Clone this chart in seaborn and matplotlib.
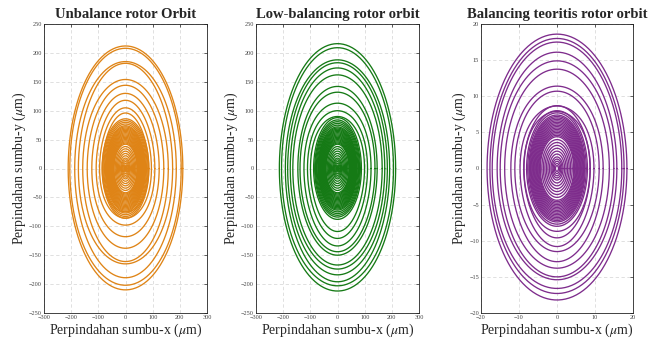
import numpy as np
import pandas as pd
import matplotlib
matplotlib.use("Agg")
import matplotlib.pyplot as plt
import seaborn as sns

# ---- orbit data (ring extents in micrometres) ----
# Unbalance rotor
unb_top = [212, 208, 185, 182, 154, 144, 130, 118, 105, 96]
unb_bot = [210, 202, 189, 165, 161, 138, 118, 98, 86, 75]
unb_core = [42, 44, 46, 48, 50, 52, 54, 56, 58, 60, 62, 64, 66, 68, 70, 72, 74, 77, 80, 83, 86]
unb_inner = [38, 34, 30, 26, 22, 18, 15, 12, 9, 6, 4, 2]

# Low-balancing rotor
low_top = [216, 209, 188, 183, 174, 162, 142, 132, 113, 100, 90]
low_bot = [212, 203, 196, 184, 174, 167, 150, 144, 134, 121, 109]
low_core = [42, 44, 46, 48, 50, 52, 54, 56, 58, 60, 62, 64, 66, 68, 70, 72, 75, 78, 81, 84, 88]
low_inner = [38, 34, 30, 26, 22, 18, 15, 12, 9, 6, 4, 2]

# Theoretical balancing rotor
bal_top = [18.6, 18.0, 17.5, 16.1, 14.9, 13.75, 11.4, 10.7, 8.65, 7.9]
bal_bot = [18.2, 17.3, 16.6, 15.4, 15.0, 13.8, 12.9, 11.5, 10.8, 9.6]
bal_core = [4.4, 4.6, 4.8, 5.0, 5.2, 5.4, 5.6, 5.8, 6.0, 6.2, 6.4, 6.6, 6.8, 7.0, 7.2, 7.4, 7.7, 8.0, 8.7]
bal_inner = [4.0, 3.6, 3.2, 2.8, 2.4, 2.0, 1.6, 1.3, 1.0, 0.7, 0.4]

titles = ["Unbalance rotor Orbit", "Low-balancing rotor orbit", "Balancing teoritis rotor orbit"]
colors = ["#DF8416", "#157A15", "#7E2C8C"]
xlims = [(-300, 300), (-300, 300), (-20, 20)]
ylims = [(-250, 250), (-250, 250), (-20, 20)]
xticks = [np.arange(-300, 301, 100), np.arange(-300, 301, 100), np.arange(-20, 21, 10)]
yticks = [np.arange(-250, 251, 50), np.arange(-250, 251, 50), np.arange(-20, 21, 5)]


def orbit_frame(tops, bots, core, inner):
    """Build a long table of orbit loops; each loop has its own top/bottom extent."""
    top_all = list(tops) + list(core) + list(inner)
    bot_all = list(bots) + list(core) + list(inner)
    th = np.linspace(0, 2 * np.pi, 240)
    frames = []
    for i, (t, b) in enumerate(zip(top_all, bot_all)):
        r = (t + b) / 2 + (t - b) / 2 * np.sin(th)
        frames.append(pd.DataFrame({
            "x": (t + b) / 2 * np.cos(th),
            "y": r * np.sin(th),
            "ring": i,
        }))
    return pd.concat(frames, ignore_index=True)


sns.set_theme(style="white")
plt.rcParams["font.family"] = ["Liberation Serif", "DejaVu Serif"]
plt.rcParams["mathtext.fontset"] = "stix"

fig = plt.figure(figsize=(6.6, 3.4), dpi=100)
fig.patch.set_facecolor("white")
positions = [
    [44 / 660, 27 / 340, 163 / 660, 289 / 340],
    [256 / 660, 27 / 340, 163 / 660, 289 / 340],
    [481 / 660, 27 / 340, 152 / 660, 289 / 340],
]
datasets = [
    orbit_frame(unb_top, unb_bot, unb_core, unb_inner),
    orbit_frame(low_top, low_bot, low_core, low_inner),
    orbit_frame(bal_top, bal_bot, bal_core, bal_inner),
]

for k in range(3):
    ax = fig.add_axes(positions[k])
    ax.set_facecolor("white")
    sns.lineplot(data=datasets[k], x="x", y="y", units="ring", estimator=None,
                 sort=False, color=colors[k], lw=0.95, ax=ax, legend=False)
    ax.set_xlim(*xlims[k])
    ax.set_ylim(*ylims[k])
    ax.set_xticks(xticks[k])
    ax.set_yticks(yticks[k])
    ax.grid(True, ls=(0, (4, 3)), color="#dadada", lw=0.6)
    ax.set_axisbelow(True)
    for sp in ax.spines.values():
        sp.set_visible(True)
        sp.set_color("#222222")
        sp.set_linewidth(0.6)
    ax.tick_params(direction="in", length=2, width=0.5, labelsize=4.5,
                   colors="#222222", labelcolor="#444444", pad=1.5,
                   top=True, right=True)
    ax.set_title(titles[k], fontsize=10.5, fontweight="bold", pad=4)
    ax.set_xlabel(r"Perpindahan sumbu-x ($\mu$m)", fontsize=10, labelpad=1)
    ax.set_ylabel(r"Perpindahan sumbu-y ($\mu$m)", fontsize=10, labelpad=1)

fig.savefig("out.png", dpi=100, facecolor="white")
